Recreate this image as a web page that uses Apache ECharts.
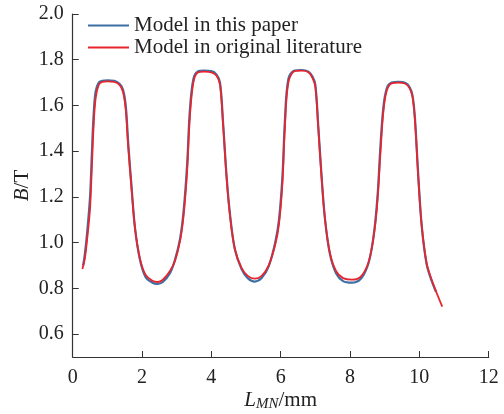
<!DOCTYPE html>
<html>
<head>
<meta charset="utf-8">
<script src="https://cdn.jsdelivr.net/npm/echarts@6/dist/echarts.min.js"></script>
<style>
html,body{margin:0;padding:0;background:#fff;}
#chart{width:504px;height:414px;}
</style>
</head>
<body>
<div id="chart"></div>
<script>
var seriesNames = ['Model in this paper', 'Model in original literature'];
var yTicks = [0.6, 0.8, 1.0, 1.2, 1.4, 1.6, 1.8, 2.0];

var xBlue = [0.30, 0.35, 0.42, 0.50, 0.55, 0.60, 0.66, 0.75, 0.85, 1.0, 1.2, 1.35, 1.45, 1.53, 1.60, 1.70, 1.80, 1.94, 2.1, 2.3, 2.45, 2.6, 2.8, 2.95, 3.1, 3.2, 3.3, 3.38, 3.48, 3.6, 3.8, 4.0, 4.15, 4.25, 4.34, 4.44, 4.54, 4.68, 4.87, 5.05, 5.25, 5.45, 5.65, 5.84, 5.95, 6.05, 6.12, 6.22, 6.4, 6.6, 6.8, 6.92, 7.0, 7.08, 7.18, 7.28, 7.42, 7.6, 7.8, 8.05, 8.3, 8.5, 8.62, 8.72, 8.80, 8.88, 8.96, 9.06, 9.2, 9.4, 9.6, 9.72, 9.80, 9.87, 9.97, 10.07, 10.21, 10.35, 10.48];
var yBlue = [0.90, 0.95, 1.05, 1.20, 1.38, 1.55, 1.66, 1.70, 1.708, 1.710, 1.708, 1.695, 1.67, 1.60, 1.44, 1.24, 1.06, 0.925, 0.85, 0.825, 0.820, 0.828, 0.865, 0.925, 1.02, 1.14, 1.34, 1.58, 1.715, 1.748, 1.752, 1.750, 1.735, 1.70, 1.52, 1.29, 1.12, 0.97, 0.885, 0.845, 0.830, 0.845, 0.895, 1.00, 1.10, 1.29, 1.53, 1.715, 1.753, 1.755, 1.748, 1.725, 1.69, 1.52, 1.29, 1.10, 0.95, 0.865, 0.832, 0.825, 0.840, 0.895, 0.97, 1.08, 1.22, 1.43, 1.59, 1.675, 1.700, 1.703, 1.698, 1.68, 1.645, 1.55, 1.29, 1.07, 0.905, 0.835, 0.785];

var xRed = [0.28, 0.35, 0.42, 0.50, 0.55, 0.60, 0.66, 0.75, 0.85, 1.0, 1.2, 1.35, 1.45, 1.53, 1.60, 1.70, 1.80, 1.94, 2.1, 2.3, 2.45, 2.6, 2.8, 2.95, 3.1, 3.2, 3.3, 3.38, 3.48, 3.6, 3.8, 4.0, 4.15, 4.25, 4.34, 4.44, 4.54, 4.68, 4.87, 5.05, 5.25, 5.45, 5.65, 5.84, 5.95, 6.05, 6.12, 6.22, 6.4, 6.6, 6.8, 6.92, 7.0, 7.08, 7.18, 7.28, 7.42, 7.6, 7.8, 8.05, 8.3, 8.5, 8.62, 8.72, 8.80, 8.88, 8.96, 9.06, 9.2, 9.4, 9.6, 9.72, 9.80, 9.87, 9.97, 10.07, 10.21, 10.35, 10.50, 10.66];
var yRed = [0.885, 0.93, 1.02, 1.15, 1.32, 1.50, 1.63, 1.69, 1.703, 1.705, 1.703, 1.69, 1.66, 1.58, 1.42, 1.23, 1.06, 0.93, 0.86, 0.833, 0.828, 0.838, 0.875, 0.92, 1.01, 1.12, 1.31, 1.55, 1.70, 1.743, 1.748, 1.745, 1.73, 1.69, 1.51, 1.28, 1.115, 0.97, 0.89, 0.855, 0.843, 0.855, 0.90, 0.99, 1.08, 1.26, 1.50, 1.70, 1.750, 1.752, 1.745, 1.72, 1.68, 1.51, 1.28, 1.10, 0.955, 0.875, 0.845, 0.838, 0.850, 0.90, 0.97, 1.07, 1.20, 1.40, 1.57, 1.665, 1.697, 1.700, 1.695, 1.675, 1.64, 1.54, 1.28, 1.07, 0.91, 0.84, 0.78, 0.72];

function pairs(xs, ys) { return xs.map(function (x, i) { return [x, ys[i]]; }); }

var font = 'Liberation Serif';
var axisColor = '#333';
var blue = '#3d6fa3';
var red = '#e8242c';
var chart = echarts.init(document.getElementById('chart'), null, {renderer: 'canvas'});
chart.setOption({
  animation: false,
  backgroundColor: '#fff',
  textStyle: {fontFamily: font},
  grid: {left: 72.7, right: 15.3, top: 14, bottom: 57, containLabel: false, outerBoundsMode: 'none'},
  legend: {
    left: 83, top: 10, orient: 'vertical', itemWidth: 41, itemHeight: 2, itemGap: 1,
    icon: 'rect',
    textStyle: {fontFamily: font, fontSize: 21, color: '#222'},
    data: [
      {name: seriesNames[0], itemStyle: {color: blue}},
      {name: seriesNames[1], itemStyle: {color: red}}
    ]
  },
  xAxis: {
    type: 'value', min: 0, max: 12, interval: 2,
    name: '{i|L}{s|MN}{n|/mm}', nameLocation: 'middle', nameGap: 31, nameMoveOverlap: false,
    nameTextStyle: {
      rich: {
        i: {fontFamily: font, fontStyle: 'italic', fontSize: 21, color: '#222'},
        s: {fontFamily: font, fontStyle: 'italic', fontSize: 15, color: '#222', verticalAlign: 'bottom', padding: [9, 0, 0, 0]},
        n: {fontFamily: font, fontSize: 21, color: '#222'}
      }
    },
    axisLine: {lineStyle: {color: axisColor, width: 1.2}},
    axisTick: {inside: true, length: 6, lineStyle: {color: axisColor}},
    axisLabel: {fontFamily: font, fontSize: 20, color: '#222', margin: 11},
    splitLine: {show: false}
  },
  yAxis: {
    type: 'value', min: 0.5, max: 2.0,
    name: '{i|B}{n|/T}', nameLocation: 'middle', nameGap: 40, nameRotate: 90, nameMoveOverlap: false,
    nameTextStyle: {
      rich: {
        i: {fontFamily: font, fontStyle: 'italic', fontSize: 21, color: '#222'},
        n: {fontFamily: font, fontSize: 21, color: '#222'}
      }
    },
    axisLine: {show: true, lineStyle: {color: axisColor, width: 1.2}},
    axisTick: {show: true, inside: true, length: 6, customValues: yTicks, lineStyle: {color: axisColor}},
    axisLabel: {fontFamily: font, fontSize: 20, color: '#222', margin: 9, customValues: yTicks,
      formatter: function (v) { return v.toFixed(1); }},
    splitLine: {show: false}
  },
  series: [
    {name: seriesNames[0], type: 'line', data: pairs(xBlue, yBlue), symbol: 'none', smooth: 0.35,
      lineStyle: {color: blue, width: 2.2}, itemStyle: {color: blue}},
    {name: seriesNames[1], type: 'line', data: pairs(xRed, yRed), symbol: 'none', smooth: 0.35,
      lineStyle: {color: red, width: 1.8}, itemStyle: {color: red}}
  ]
});
</script>
</body>
</html>
